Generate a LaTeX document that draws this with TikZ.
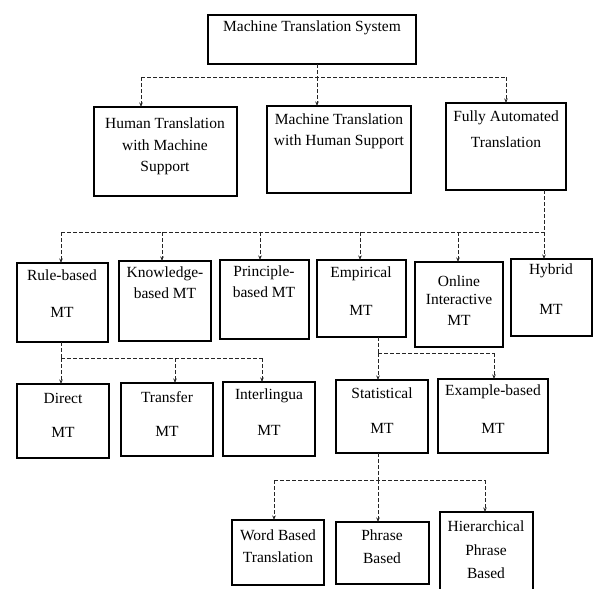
\documentclass[tikz,border=0pt]{standalone}
\usepackage{fontspec}
\setmainfont{Liberation Serif}
\usetikzlibrary{arrows.meta,fit}
\tikzset{
  box/.style={draw, line width=1.1pt, inner sep=0pt, outer sep=0pt},
  lbl/.style={font=\fontsize{15.5}{18}\selectfont, inner sep=0pt, anchor=center},
  ln/.style={line width=0.7pt, dash pattern=on 4pt off 2pt, black!85},
  arr/.style={ln, -{Stealth[length=4.5pt,width=3.5pt]}},
}
\begin{document}
\begin{tikzpicture}[x=1pt,y=-1pt]
\useasboundingbox (0,0) rectangle (595,589);
% boxes
\node[box, fit={(208,15)(416,64)}] (top) {};
\node[box, fit={(94,107)(237,196)}] (ht) {};
\node[box, fit={(267,106)(411,193)}] (mth) {};
\node[box, fit={(446,103)(566,190)}] (fa) {};
\node[box, fit={(17,263)(108,342)}] (rb) {};
\node[box, fit={(119,261)(211,341)}] (kb) {};
\node[box, fit={(220,260)(309,339)}] (pb) {};
\node[box, fit={(317,260)(406,337)}] (em) {};
\node[box, fit={(415,262)(503,347)}] (on) {};
\node[box, fit={(511,259)(592,336)}] (hy) {};
\node[box, fit={(17,384)(109,458)}] (di) {};
\node[box, fit={(121,383)(213,456)}] (tr) {};
\node[box, fit={(223,382)(315,456)}] (il) {};
\node[box, fit={(336,380)(428,453)}] (st) {};
\node[box, fit={(438,379)(548,453)}] (ex) {};
\node[box, fit={(232,520)(324,585)}] (wb) {};
\node[box, fit={(336,522)(429,584)}] (ph) {};
\node[box, fit={(440,512)(533,596)}] (hi) {};
% texts
\node[lbl] (t-top) at (312,28) {Machine Translation System};
\node[lbl] (t-ht1) at (165,123) {Human Translation};
\node[lbl] (t-ht2) at (165,145) {with Machine};
\node[lbl] (t-ht3) at (165,168) {Support};
\node[lbl] (t-mt1) at (339,119) {Machine Translation};
\node[lbl] (t-mt2) at (339,142) {with Human Support};
\node[lbl] (t-fa1) at (506,118) {Fully Automated};
\node[lbl] (t-fa2) at (506,142) {Translation};
\node[lbl] (t-rb1) at (62,275) {Rule-based};
\node[lbl] (t-rb2) at (62,312) {MT};
\node[lbl] (t-kb1) at (165,274) {Knowledge-};
\node[lbl] (t-kb2) at (165,293) {based MT};
\node[lbl] (t-pb1) at (264,273) {Principle-};
\node[lbl] (t-pb2) at (264,292) {based MT};
\node[lbl] (t-em1) at (361,274) {Empirical};
\node[lbl] (t-em2) at (361,310) {MT};
\node[lbl] (t-on1) at (459,281) {Online};
\node[lbl] (t-on2) at (459,299) {Interactive};
\node[lbl] (t-on3) at (459,320) {MT};
\node[lbl] (t-hy1) at (551,271) {Hybrid};
\node[lbl] (t-hy2) at (551,309) {MT};
\node[lbl] (t-di1) at (63,398) {Direct};
\node[lbl] (t-di2) at (63,432) {MT};
\node[lbl] (t-tr1) at (167,397) {Transfer};
\node[lbl] (t-tr2) at (167,431) {MT};
\node[lbl] (t-il1) at (269,396) {Interlingua};
\node[lbl] (t-il2) at (269,430) {MT};
\node[lbl] (t-st1) at (382,393) {Statistical};
\node[lbl] (t-st2) at (382,428) {MT};
\node[lbl] (t-ex1) at (493,392) {Example-based};
\node[lbl] (t-ex2) at (493,428) {MT};
\node[lbl] (t-wb1) at (278,535) {Word Based};
\node[lbl] (t-wb2) at (278,557) {Translation};
\node[lbl] (t-ph1) at (382,535) {Phrase};
\node[lbl] (t-ph2) at (382,558) {Based};
\node[lbl] (t-hi1) at (486,526) {Hierarchical};
\node[lbl] (t-hi2) at (486,550) {Phrase};
\node[lbl] (t-hi3) at (486,573) {Based};
% junction coordinates
\coordinate (a0) at (317,77);
\coordinate (a1) at (141,77);
\coordinate (a3) at (506,77);
\coordinate (b0) at (544,232);
\coordinate (b1) at (61,232);
\coordinate (b2) at (162,232);
\coordinate (b3) at (260,232);
\coordinate (b4) at (360,232);
\coordinate (b5) at (458,232);
\coordinate (c1) at (61,358);
\coordinate (c2) at (175,358);
\coordinate (c3) at (262,358);
\coordinate (d1) at (378,353);
\coordinate (d2) at (494,353);
\coordinate (e0) at (378,480);
\coordinate (e1) at (274,480);
\coordinate (e3) at (485,480);
% level 1
\draw[ln] (top.south -| a0) -- (a0);
\draw[ln] (a1) -- (a3);
\draw[arr] (a1) -- (a1 |- ht.north);
\draw[arr] (a0) -- (a0 |- mth.north);
\draw[arr] (a3) -- (a3 |- fa.north);
% level 2
\draw[ln] (fa.south -| b0) -- (b0);
\draw[ln] (b1) -- (b0);
\draw[arr] (b1) -- (b1 |- rb.north);
\draw[arr] (b2) -- (b2 |- kb.north);
\draw[arr] (b3) -- (b3 |- pb.north);
\draw[arr] (b4) -- (b4 |- em.north);
\draw[arr] (b5) -- (b5 |- on.north);
\draw[arr] (b0) -- (b0 |- hy.north);
% level 3 left
\draw[ln] (rb.south -| c1) -- (c1);
\draw[ln] (c1) -- (c3);
\draw[arr] (c1) -- (c1 |- di.north);
\draw[arr] (c2) -- (c2 |- tr.north);
\draw[arr] (c3) -- (c3 |- il.north);
% level 3 right
\draw[ln] (em.south -| d1) -- (d1);
\draw[ln] (d1) -- (d2);
\draw[arr] (d1) -- (d1 |- st.north);
\draw[arr] (d2) -- (d2 |- ex.north);
% level 4
\draw[ln] (st.south -| e0) -- (e0);
\draw[ln] (e1) -- (e3);
\draw[arr] (e1) -- (e1 |- wb.north);
\draw[arr] (e0) -- (e0 |- ph.north);
\draw[arr] (e3) -- (e3 |- hi.north);
\end{tikzpicture}
\end{document}
